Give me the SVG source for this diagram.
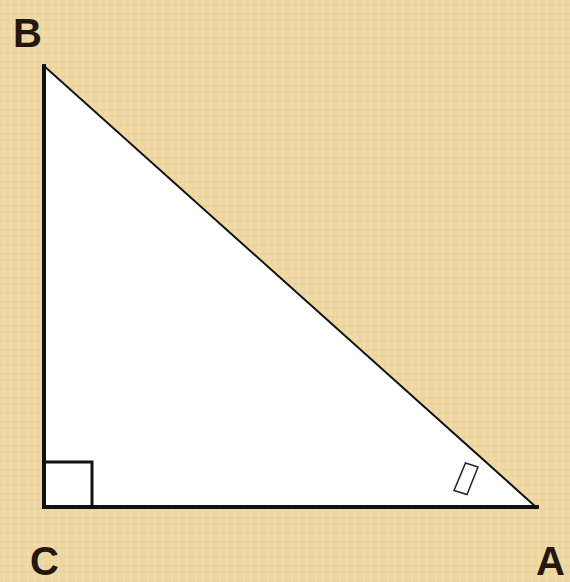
<svg xmlns="http://www.w3.org/2000/svg" width="570" height="582" viewBox="0 0 570 582">
<style>
.lbl{font-family:"Liberation Sans",Arial,sans-serif;font-weight:bold;font-size:40px;fill:#241610}
.edge{stroke:#111;fill:none;stroke-linecap:square}
</style>
<defs>
<pattern id="papyrus" width="24" height="24" patternUnits="userSpaceOnUse">
<rect width="24" height="24" fill="#eed7a3"/>
<path d="M0 5H24M0 14H24M0 20H24" stroke="#e3c98f" stroke-width="1" opacity="0.6"/>
<path d="M4 0V24M11 0V24M19 0V24" stroke="#f4e2b6" stroke-width="1" opacity="0.7"/>
</pattern>
</defs>
<rect width="570" height="582" fill="url(#papyrus)"/>
<g id="triangle">
<polygon points="44,66 44,507 537,507" fill="#ffffff"/>
<line class="edge" x1="44" y1="66" x2="536" y2="507" stroke-width="2"/>
<line class="edge" x1="44" y1="66" x2="44" y2="507" stroke-width="4"/>
<line class="edge" x1="44" y1="507" x2="537" y2="507" stroke-width="4"/>
</g>
<g id="right-angle">
<polyline class="edge" points="44,462 92,462 92,507" stroke-width="3"/>
</g>
<g id="angle-mark">
<polygon points="465.5,463 478,467 467,494.5 454,490.5" fill="none" stroke="#222" stroke-width="1.5"/>
</g>
<g id="labels">
<text class="lbl" x="13" y="47">B</text>
<text class="lbl" x="30" y="575">C</text>
<text class="lbl" x="536" y="575">A</text>
</g>
</svg>
